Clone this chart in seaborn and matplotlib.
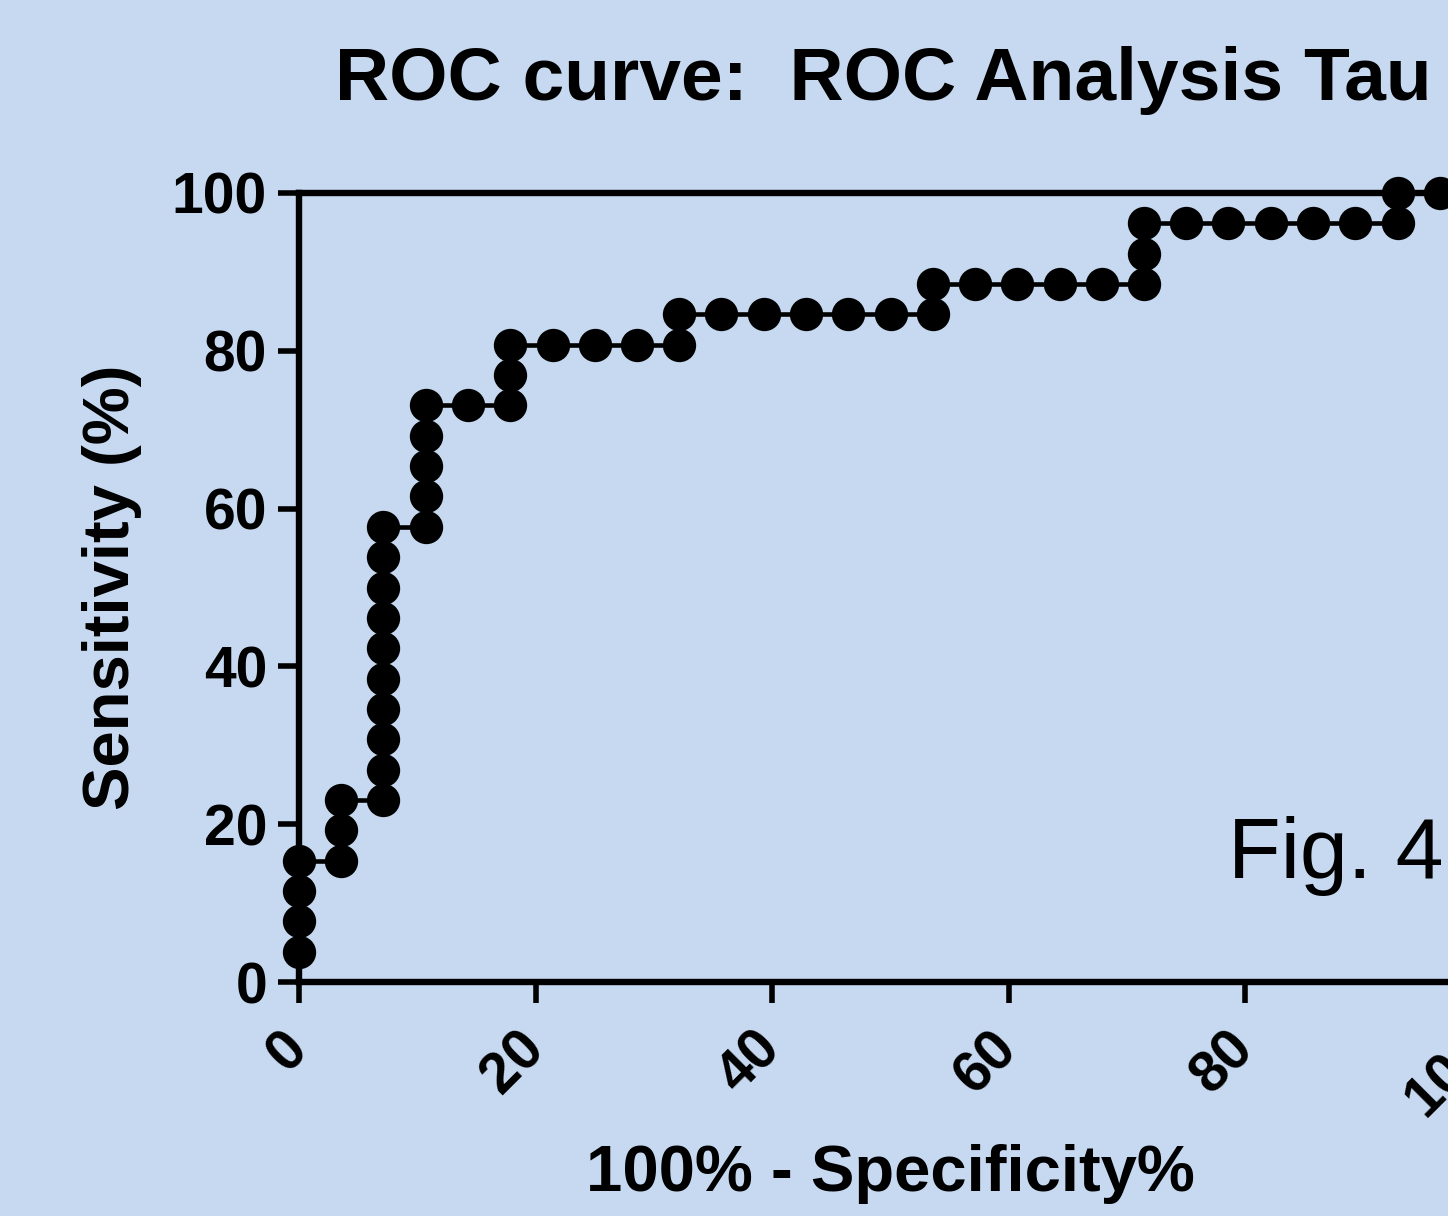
import matplotlib
matplotlib.use('Agg')
import matplotlib.pyplot as plt
import seaborn as sns
import pandas as pd

# ROC points (100% - Specificity%, Sensitivity%)
fpr = [0, 0, 0, 0,
       3.57, 3.57, 3.57,
       7.14, 7.14, 7.14, 7.14, 7.14, 7.14, 7.14, 7.14, 7.14, 7.14,
       10.71, 10.71, 10.71, 10.71, 10.71,
       14.29,
       17.86, 17.86, 17.86,
       21.43, 25.00, 28.57,
       32.14, 32.14,
       35.71, 39.29, 42.86, 46.43, 50.00,
       53.57, 53.57,
       57.14, 60.71, 64.29, 67.86,
       71.43, 71.43, 71.43,
       75.00, 78.57, 82.14, 85.71, 89.29,
       92.86, 92.86,
       96.43, 100.0]
sens = [3.85, 7.69, 11.54, 15.38,
        15.38, 19.23, 23.08,
        23.08, 26.92, 30.77, 34.62, 38.46, 42.31, 46.15, 50.00, 53.85, 57.69,
        57.69, 61.54, 65.38, 69.23, 73.08,
        73.08,
        73.08, 76.92, 80.77,
        80.77, 80.77, 80.77,
        80.77, 84.62,
        84.62, 84.62, 84.62, 84.62, 84.62,
        84.62, 88.46,
        88.46, 88.46, 88.46, 88.46,
        88.46, 92.31, 96.15,
        96.15, 96.15, 96.15, 96.15, 96.15,
        96.15, 100.0,
        100.0, 100.0]

tick_vals = [0, 20, 40, 60, 80, 100]
title = 'ROC curve:  ROC Analysis Tau'

df = pd.DataFrame({'fpr': fpr, 'sens': sens})

bg = '#C6D9F1'
sns.set_style('ticks')
plt.rcParams['font.family'] = ['Liberation Sans', 'DejaVu Sans']
plt.rcParams['font.weight'] = 'bold'
plt.rcParams['text.color'] = 'black'
plt.rcParams['axes.labelcolor'] = 'black'
plt.rcParams['xtick.color'] = 'black'
plt.rcParams['ytick.color'] = 'black'

fig = plt.figure(figsize=(14.48, 12.16), dpi=100, facecolor=bg)
# the plot runs off the right edge in the original
ax = fig.add_axes([299 / 1448, 1 - 982 / 1216, (1482 - 299) / 1448, (982 - 193) / 1216])
ax.set_facecolor(bg)

sns.lineplot(data=df, x='fpr', y='sens', sort=False, estimator=None,
             color='black', linewidth=3.3, marker='o', markersize=24,
             markeredgewidth=0, clip_on=False, ax=ax, zorder=5)

ax.set_xlim(0, 100)
ax.set_ylim(0, 100)
ax.set_xticks(tick_vals)
ax.set_yticks(tick_vals)
ax.set_xticklabels([str(v) for v in tick_vals], rotation=45, ha='right',
                   va='center', rotation_mode='anchor', fontsize=41, fontweight='bold')
ax.set_yticklabels([str(v) for v in tick_vals], fontsize=41, fontweight='bold')
ax.tick_params(axis='both', direction='out', length=15, width=4, color='black',
               labelcolor='black')
ax.tick_params(axis='x', pad=27)
ax.tick_params(axis='y', pad=8)

for side in ['left', 'bottom', 'top', 'right']:
    ax.spines[side].set_linewidth(4.6)
    ax.spines[side].set_color('black')

ax.set_xlabel('100% - Specificity%', fontsize=47, fontweight='bold')
ax.set_ylabel('Sensitivity (%)', fontsize=47, fontweight='bold')
ax.xaxis.set_label_coords(0.5, -0.205)
ax.yaxis.set_label_coords(-0.133, 0.5)

fig.text(335 / 1448, 1 - 100 / 1216, title, fontsize=54, fontweight='bold',
         ha='left', va='baseline')

ax.text(78.5, 13.2, 'Fig. 4', fontsize=62, fontweight='normal',
        ha='left', va='baseline')

fig.savefig('out.png', dpi=100, facecolor=bg)
